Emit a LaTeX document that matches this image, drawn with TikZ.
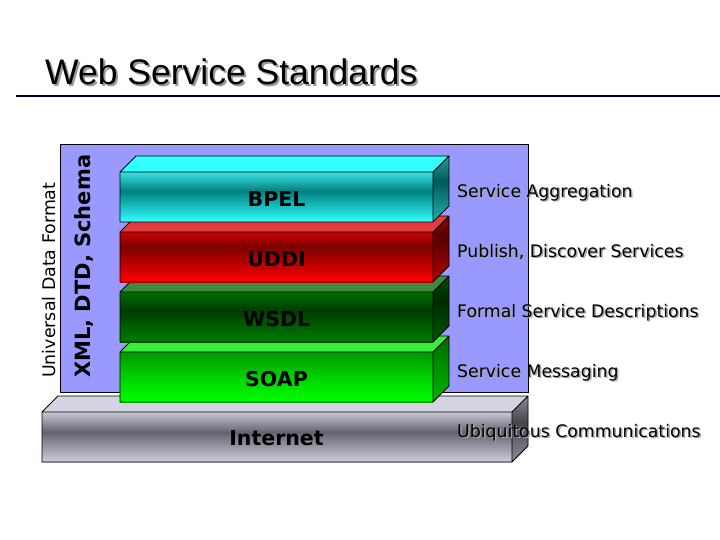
\documentclass[tikz,border=0pt]{standalone}
\usepackage{fontspec}
\setmainfont{DejaVu Sans}
\newfontfamily\titlefont{Liberation Sans}
\usetikzlibrary{positioning}
\definecolor{lav}{RGB}{153,153,255}
\definecolor{navy}{RGB}{0,0,64}
\definecolor{bpT}{RGB}{60,225,225}\definecolor{bpM}{RGB}{0,128,128}\definecolor{bpB}{RGB}{51,255,255}\definecolor{bpTop}{RGB}{51,255,255}
\definecolor{udT}{RGB}{200,0,0}\definecolor{udM}{RGB}{125,0,0}\definecolor{udB}{RGB}{255,0,0}\definecolor{udTop}{RGB}{228,60,60}
\definecolor{wsT}{RGB}{0,110,0}\definecolor{wsM}{RGB}{0,60,0}\definecolor{wsB}{RGB}{0,125,0}\definecolor{wsTop}{RGB}{60,140,60}
\definecolor{soT}{RGB}{0,150,0}\definecolor{soM}{RGB}{0,210,0}\definecolor{soB}{RGB}{0,255,0}\definecolor{soTop}{RGB}{60,235,60}
\definecolor{inT}{RGB}{200,200,215}\definecolor{inM}{RGB}{100,100,112}\definecolor{inB}{RGB}{205,205,225}\definecolor{inTop}{RGB}{212,212,228}
\pgfdeclareverticalshading{shBPEL}{100bp}{color(0bp)=(bpB); color(25bp)=(bpB); color(56bp)=(bpM); color(75bp)=(bpT); color(100bp)=(bpT)}
\pgfdeclareverticalshading{shUDDI}{100bp}{color(0bp)=(udB); color(25bp)=(udB); color(60bp)=(udM); color(75bp)=(udT); color(100bp)=(udT)}
\pgfdeclareverticalshading{shWSDL}{100bp}{color(0bp)=(wsB); color(25bp)=(wsB); color(57bp)=(wsM); color(75bp)=(wsT); color(100bp)=(wsT)}
\pgfdeclareverticalshading{shSOAP}{100bp}{color(0bp)=(soB); color(25bp)=(soB); color(50bp)=(soM); color(75bp)=(soT); color(100bp)=(soT)}
\pgfdeclareverticalshading{shINET}{100bp}{color(0bp)=(inB); color(25bp)=(inB); color(55bp)=(inM); color(75bp)=(inT); color(100bp)=(inT)}
\newcommand\drawslab[5]{%
  \begin{scope}[shift={(#1,#2)}]
    \path[shading=#4] (0,0) rectangle (#3,50);
    \fill[#5] (0,0) -- (16,-16) -- ({#3+16},-16) -- (#3,0) -- cycle;
    \path[shading=#4] (#3,0) -- ({#3+16},-16) -- ({#3+16},34) -- (#3,50) -- cycle;
    \fill[black,opacity=.3] (#3,0) -- ({#3+16},-16) -- ({#3+16},34) -- (#3,50) -- cycle;
    \draw[slabline] (0,0) rectangle (#3,50)
      (0,0) -- (16,-16) -- ({#3+16},-16) -- ({#3+16},34) -- (#3,50)
      (#3,0) -- ({#3+16},-16);
  \end{scope}}
\tikzset{
  slabline/.style={draw=black,line width=0.8pt,line join=round},
  barlabel/.style={font=\bfseries\fontsize{20.5}{24}\selectfont,inner sep=0pt},
  sidelabel/.style={font=\fontsize{17.3}{20}\selectfont,inner sep=0pt,anchor=base west,text=black},
  sideshadow/.style={font=\fontsize{17.3}{20}\selectfont,inner sep=0pt,anchor=base west,text=black!35},
}
\begin{document}
\begin{tikzpicture}[x=1pt,y=-1pt]
\useasboundingbox (0,0) rectangle (720,540);
\fill[white] (0,0) rectangle (720,540);
% title
\node[inner sep=0pt,anchor=base west,text=black!40,font=\titlefont\fontsize{35.5}{40}\selectfont] (titleshadow) at (47,87) {Web Service Standards};
\node[inner sep=0pt,anchor=base west,text=black,font=\titlefont\fontsize{35.5}{40}\selectfont] (title) at (45,85) {Web Service Standards};
\draw[navy,line width=2.5pt] (16,96) -- (720,96);
% background panel
\draw[fill=lav,line width=0.8pt] (60,144) rectangle (528,392);
% slabs, bottom first
\drawslab{42}{412}{470}{shINET}{inTop}
\drawslab{120}{352}{313}{shSOAP}{soTop}
\drawslab{120}{292}{313}{shWSDL}{wsTop}
\drawslab{120}{232}{313}{shUDDI}{udTop}
\drawslab{120}{172}{313}{shBPEL}{bpTop}
\node[barlabel] (bpel) at (276.5,199.5) {BPEL};
\node[barlabel] (uddi) at (276.5,259.5) {UDDI};
\node[barlabel] (wsdl) at (276.5,319.5) {WSDL};
\node[barlabel] (soap) at (276.5,379.5) {SOAP};
\node[barlabel] (internet) at (276.5,438.5) {Internet};
% side labels
\foreach \t/\y/\n in {Service Aggregation/197/lA, {Publish, Discover Services}/257/lB, Formal Service Descriptions/317/lC, Service Messaging/377/lD, Ubiquitous Communications/437/lE}{
  \node[sideshadow] (\n s) at (458.5,\y+1.5) {\t};
  \node[sidelabel] (\n) at (457,\y) {\t};
}
% rotated labels
\node[inner sep=0pt,anchor=base west,rotate=90,font=\fontsize{17.4}{20}\selectfont] (udf) at (55,378) {Universal Data Format};
\node[inner sep=0pt,anchor=base west,rotate=90,font=\bfseries\fontsize{21}{24}\selectfont] (xml) at (90,378) {XML, DTD, Schema};
\end{tikzpicture}
\end{document}
